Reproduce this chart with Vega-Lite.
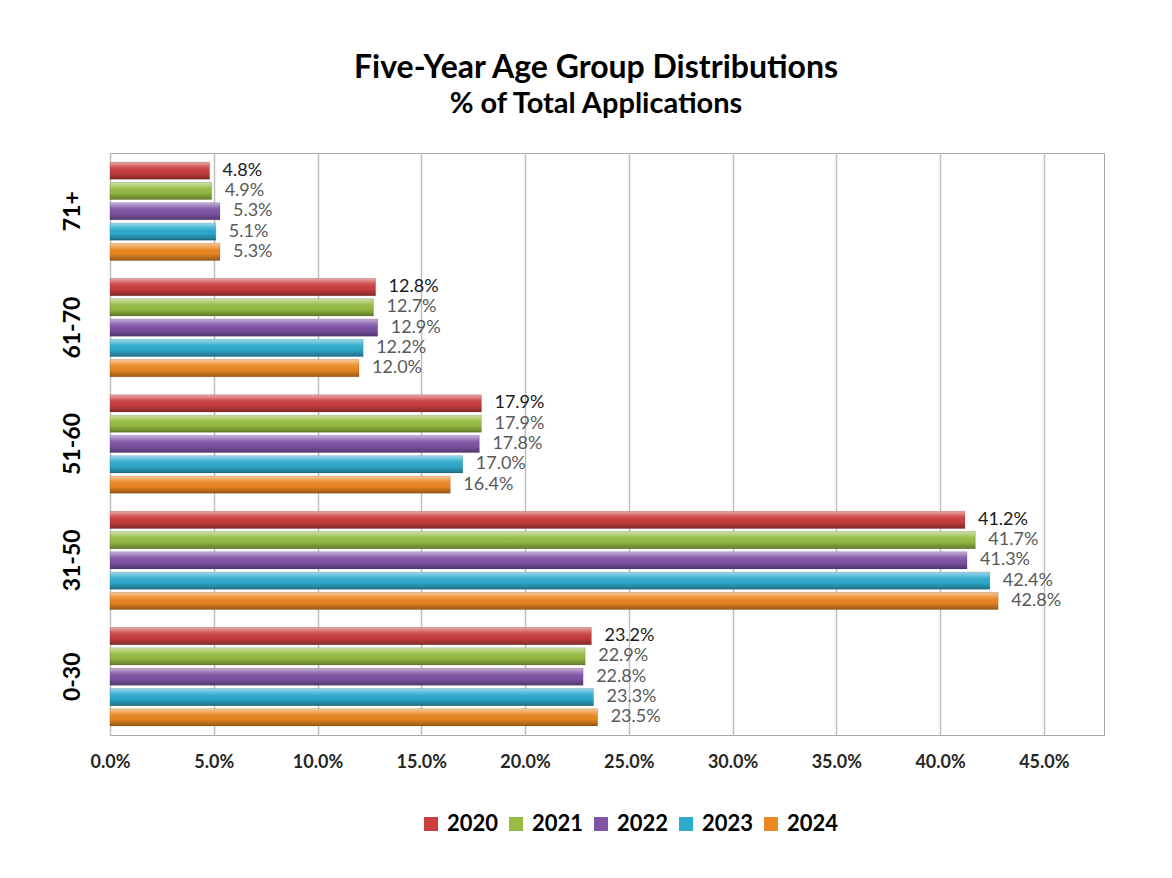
{
  "$schema": "https://vega.github.io/schema/vega-lite/v6.json",
  "width": 994,
  "height": 582,
  "autosize": "none",
  "padding": {"left": 110, "top": 153, "right": 68, "bottom": 143},
  "background": "white",
  "config": {
    "view": {"stroke": "#a6a6a6", "strokeWidth": 1},
    "font": "Lato"
  },
  "title": {
    "text": "Five-Year Age Group Distributions",
    "subtitle": "% of Total Applications",
    "font": "Lato",
    "fontSize": 32,
    "fontWeight": "bold",
    "color": "#000000",
    "subtitleFont": "Lato",
    "subtitleFontSize": 29,
    "subtitleFontWeight": "bold",
    "subtitleColor": "#000000",
    "subtitlePadding": 5,
    "anchor": "middle",
    "offset": 33,
    "dx": -11
  },
  "data": {
    "values": [
      {"age": "71+", "year": "2020", "pct": 0.048},
      {"age": "71+", "year": "2021", "pct": 0.049},
      {"age": "71+", "year": "2022", "pct": 0.053},
      {"age": "71+", "year": "2023", "pct": 0.051},
      {"age": "71+", "year": "2024", "pct": 0.053},
      {"age": "61-70", "year": "2020", "pct": 0.128},
      {"age": "61-70", "year": "2021", "pct": 0.127},
      {"age": "61-70", "year": "2022", "pct": 0.129},
      {"age": "61-70", "year": "2023", "pct": 0.122},
      {"age": "61-70", "year": "2024", "pct": 0.120},
      {"age": "51-60", "year": "2020", "pct": 0.179},
      {"age": "51-60", "year": "2021", "pct": 0.179},
      {"age": "51-60", "year": "2022", "pct": 0.178},
      {"age": "51-60", "year": "2023", "pct": 0.170},
      {"age": "51-60", "year": "2024", "pct": 0.164},
      {"age": "31-50", "year": "2020", "pct": 0.412},
      {"age": "31-50", "year": "2021", "pct": 0.417},
      {"age": "31-50", "year": "2022", "pct": 0.413},
      {"age": "31-50", "year": "2023", "pct": 0.424},
      {"age": "31-50", "year": "2024", "pct": 0.428},
      {"age": "0-30", "year": "2020", "pct": 0.232},
      {"age": "0-30", "year": "2021", "pct": 0.229},
      {"age": "0-30", "year": "2022", "pct": 0.228},
      {"age": "0-30", "year": "2023", "pct": 0.233},
      {"age": "0-30", "year": "2024", "pct": 0.235}
    ]
  },
  "encoding": {
    "y": {
      "field": "age",
      "type": "nominal",
      "sort": ["71+", "61-70", "51-60", "31-50", "0-30"],
      "scale": {"paddingInner": 0.155, "paddingOuter": 0.078},
      "axis": {
        "title": null,
        "ticks": false,
        "domain": false,
        "grid": false,
        "labelAngle": 270,
        "labelFont": "Lato",
        "labelFontSize": 23,
        "labelFontWeight": "bold",
        "labelColor": "#000000",
        "labelPadding": 26
      }
    },
    "yOffset": {
      "field": "year",
      "type": "nominal",
      "sort": ["2020", "2021", "2022", "2023", "2024"],
      "scale": {"paddingInner": 0.15}
    },
    "x": {
      "field": "pct",
      "type": "quantitative",
      "scale": {"domain": [0, 0.479], "nice": false, "zero": true},
      "axis": {
        "title": null,
        "values": [0, 0.05, 0.1, 0.15, 0.2, 0.25, 0.3, 0.35, 0.4, 0.45],
        "format": ".1%",
        "ticks": false,
        "domain": false,
        "grid": true,
        "gridColor": "#bfbfbf",
        "gridWidth": 1.5,
        "labelFont": "Lato",
        "labelFontSize": 18,
        "labelFontWeight": "bold",
        "labelColor": "#262626",
        "labelPadding": 18,
        "labelFlush": false
      }
    }
  },
  "layer": [
    {
      "mark": {"type": "bar"},
      "encoding": {
        "color": {
          "field": "year",
          "type": "nominal",
          "scale": {
            "domain": ["2020", "2021", "2022", "2023", "2024"],
            "range": ["#cc3f3f", "#96bd42", "#7f55a8", "#2eaccf", "#ec8822"]
          },
          "legend": {
            "title": null,
            "orient": "none",
            "legendX": 310,
            "legendY": 660,
            "direction": "horizontal",
            "symbolType": "square",
            "symbolSize": 196,
            "symbolStrokeWidth": 0,
            "labelFont": "Lato",
            "labelFontSize": 22,
            "labelFontWeight": "bold",
            "labelColor": "#000000",
            "labelOffset": 5,
            "columnPadding": 6
          }
        }
      }
    },
    {
      "mark": {
        "type": "bar",
        "stroke": "#000000",
        "strokeOpacity": 0.2,
        "strokeWidth": 0.6,
        "fill": {
          "gradient": "linear",
          "x1": 0, "y1": 0, "x2": 0, "y2": 1,
          "stops": [
            {"offset": 0, "color": "rgba(255,255,255,0.55)"},
            {"offset": 0.3, "color": "rgba(255,255,255,0.12)"},
            {"offset": 0.6, "color": "rgba(0,0,0,0.02)"},
            {"offset": 1, "color": "rgba(0,0,0,0.35)"}
          ]
        }
      },
      "encoding": {}
    },
    {
      "mark": {"type": "text", "align": "left", "baseline": "middle", "dx": 13, "font": "Lato", "fontSize": 18},
      "encoding": {
        "text": {"field": "pct", "type": "quantitative", "format": ".1%"},
        "color": {
          "condition": {"test": "datum.year === '2020'", "value": "#1a1a1a"},
          "value": "#595959"
        }
      }
    }
  ]
}
